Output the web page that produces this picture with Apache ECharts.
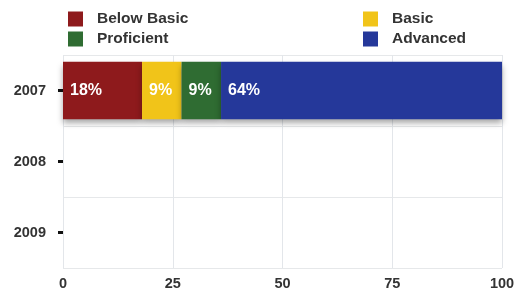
<!DOCTYPE html>
<html>
<head>
<meta charset="utf-8">
<script src="https://cdn.jsdelivr.net/npm/echarts@6/dist/echarts.min.js"></script>
<style>
html,body{margin:0;padding:0;background:#fff;}
#main{width:521px;height:295px;}
</style>
</head>
<body>
<div id="main"></div>
<script>
var years = ['2007', '2008', '2009'];
var belowBasic = [18, null, null];
var basic = [9, null, null];
var proficient = [9, null, null];
var advanced = [64, null, null];
var xTicks = [0, 25, 50, 75, 100];

var chart = echarts.init(document.getElementById('main'));

function seg(name, data, color) {
    return {
        name: name,
        type: 'bar',
        stack: 'total',
        barWidth: '81%',
        data: data,
        itemStyle: {
            color: color,
            shadowColor: 'rgba(0,0,0,0.35)',
            shadowBlur: 6,
            shadowOffsetY: 4
        },
        label: {
            show: true,
            position: 'insideLeft',
            distance: 7,
            color: '#fff',
            fontWeight: 'bold',
            fontSize: 16,
            fontFamily: 'Liberation Sans',
            formatter: '{c}%'
        }
    };
}

var legendText = {color: '#333', fontWeight: 'bold', fontSize: 15.5, fontFamily: 'Liberation Sans', padding: [0, 0, 0, 9]};

option = {
    animation: false,
    legend: [
        {
            data: ['Below Basic', 'Proficient'],
            orient: 'vertical',
            left: 63,
            top: 6,
            itemWidth: 15,
            itemHeight: 15,
            itemGap: 4,
            icon: 'rect',
            textStyle: legendText
        },
        {
            data: ['Basic', 'Advanced'],
            orient: 'vertical',
            left: 358,
            top: 6,
            itemWidth: 15,
            itemHeight: 15,
            itemGap: 4,
            icon: 'rect',
            textStyle: legendText
        }
    ],
    grid: {left: 63, right: 19, top: 55, bottom: 27},
    xAxis: {
        type: 'value',
        min: 0,
        max: 100,
        interval: 25,
        axisLine: {show: false},
        axisTick: {show: false},
        splitLine: {lineStyle: {color: '#e3e6ea'}},
        axisLabel: {
            margin: 8,
            color: '#333',
            fontWeight: 'bold',
            fontSize: 14.5,
            fontFamily: 'Liberation Sans',
            customValues: xTicks
        }
    },
    yAxis: {
        type: 'category',
        data: years,
        inverse: true,
        axisLine: {show: false},
        axisTick: {show: true, alignWithLabel: true, length: 5, lineStyle: {color: '#111', width: 3}},
        splitLine: {show: true, lineStyle: {color: '#e6e8ea'}},
        axisLabel: {
            margin: 17,
            color: '#333',
            fontWeight: 'bold',
            fontSize: 14.5,
            fontFamily: 'Liberation Sans'
        }
    },
    series: [
        seg('Below Basic', belowBasic, '#8e1a1c'),
        seg('Basic', basic, '#f1c419'),
        seg('Proficient', proficient, '#2f6c32'),
        seg('Advanced', advanced, '#25389a')
    ]
};
chart.setOption(option);
</script>
</body>
</html>
